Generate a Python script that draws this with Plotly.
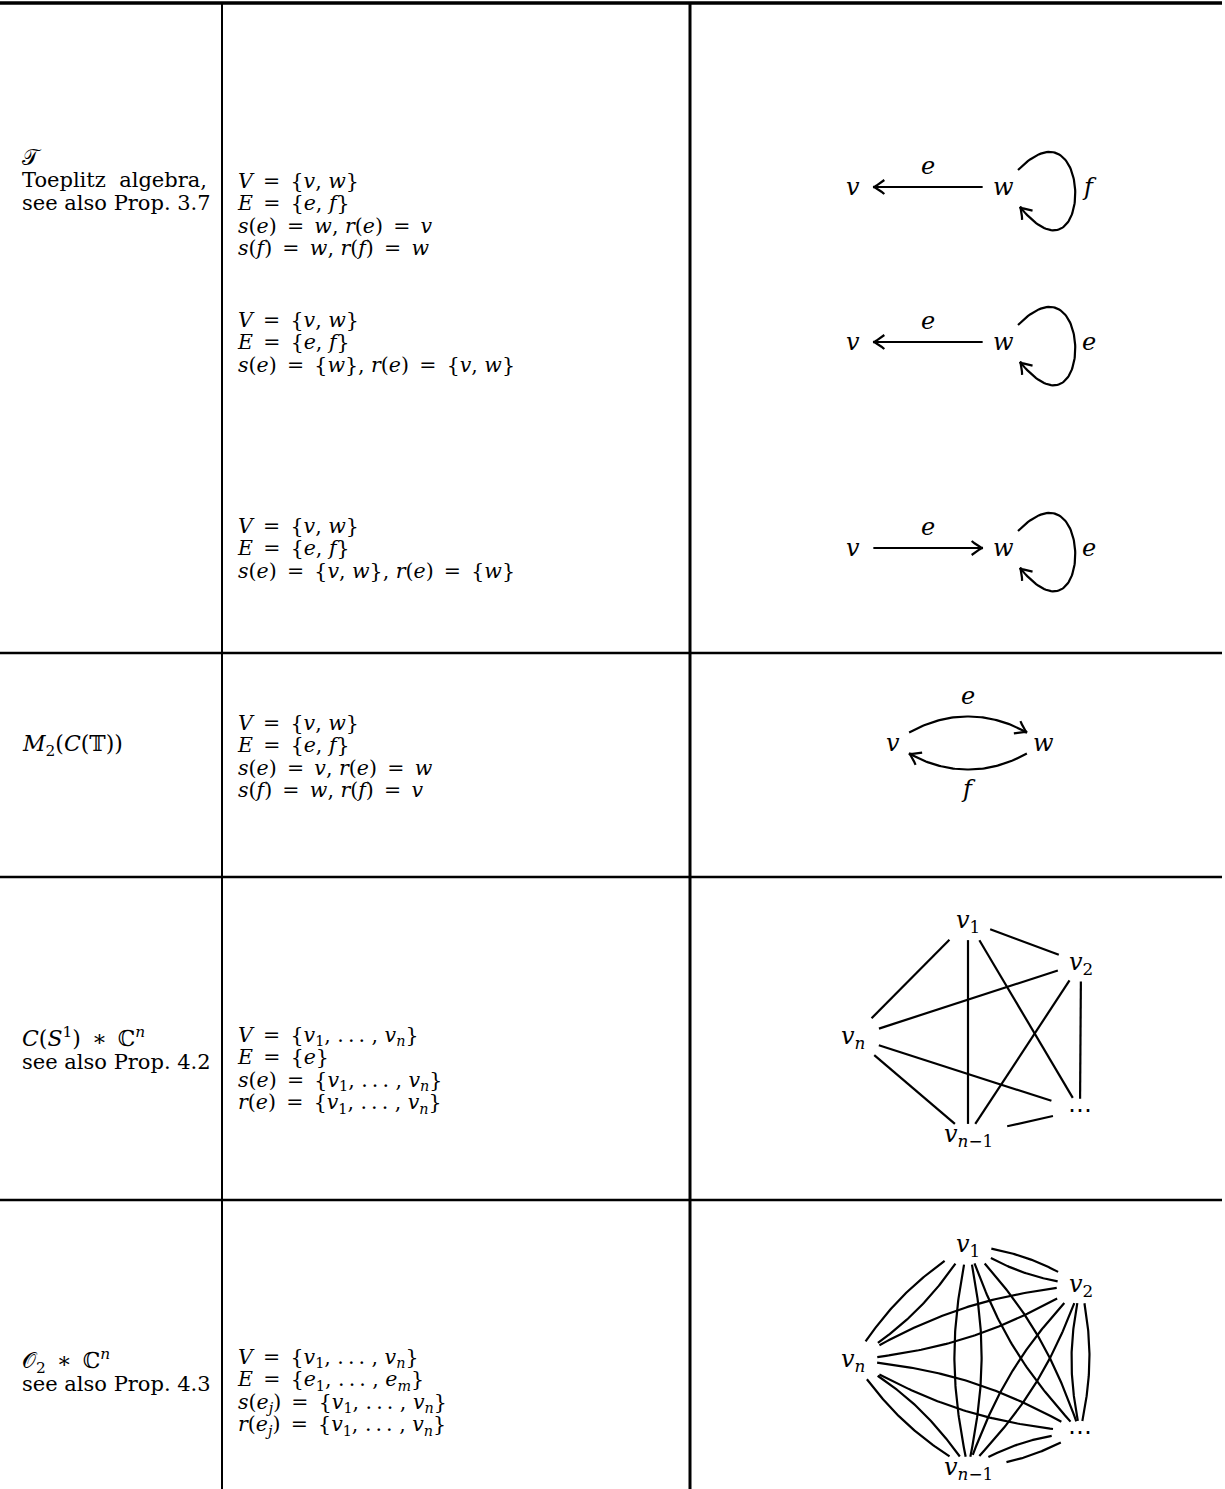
import re
from itertools import combinations

import numpy as np
import plotly.graph_objects as go

W, H = 1225, 1489
SERIF = "DejaVu Serif"
MATH_PX = 20.5    # glyph size of formulas
PROSE_PX = 21     # glyph size of plain words
NODE_PX = 24      # glyph size in the graphs
LINE = 22.4       # baseline distance of the stacked lines

# table rules (pixel coords, y downwards)
rule_y = [3, 653, 877, 1200]
rule_width = [3.5, 2.5, 2.5, 2.5]
col_x = [222, 690]
col_width = [2.0, 3.0]

DOTS = ".\u2009.\u2009."
EQ = "\u2002=\u2002"
STAR = "\u2002∗\u2002"

# first column (first line is math)
label_T = ["𝒯", "Toeplitz\u00a0\u00a0algebra,", "see also Prop. 3.7"]
label_M2 = ["M<sub>2</sub>(C(𝕋))"]
label_CS1 = ["C(S<sup>1</sup>)" + STAR + "ℂ<sup>n</sup>", "see also Prop. 4.2"]
label_O2 = ["𝒪<sub>2</sub>" + STAR + "ℂ<sup>n</sup>", "see also Prop. 4.3"]
label_mid = [180, 745, 1048, 1370]

# second column
V2 = "V" + EQ + "{v, w}"
E2 = "E" + EQ + "{e, f}"
ALLV = "{v<sub>1</sub>, " + DOTS + " , v<sub>n</sub>}"
defs_T1 = [V2, E2, f"s(e){EQ}w, r(e){EQ}v", f"s(f){EQ}w, r(f){EQ}w"]
defs_T2 = [V2, E2, f"s(e){EQ}{{w}}, r(e){EQ}{{v, w}}"]
defs_T3 = [V2, E2, f"s(e){EQ}{{v, w}}, r(e){EQ}{{w}}"]
defs_M2 = [V2, E2, f"s(e){EQ}v, r(e){EQ}w", f"s(f){EQ}w, r(f){EQ}v"]
defs_CS1 = ["V" + EQ + ALLV, "E" + EQ + "{e}", "s(e)" + EQ + ALLV, "r(e)" + EQ + ALLV]
defs_O2 = ["V" + EQ + ALLV, "E" + EQ + "{e<sub>1</sub>, " + DOTS + " , e<sub>m</sub>}",
           "s(e<sub>j</sub>)" + EQ + ALLV, "r(e<sub>j</sub>)" + EQ + ALLV]
defs_mid = [214, 342, 548, 756, 1070, 1392]

# two-vertex graphs with a loop at w
pair_x = [853, 1003]
loop_rows_y = [187, 342, 548]
edge_dir = ["wv", "wv", "vw"]
loop_label = ["f", "e", "e"]

# M2(C(T)) graph
m2_nodes = [(893, 743), (1043, 743)]
m2_labels = ["e", "f"]

# complete graph on v1, v2, vn, ..., v_{n-1}
k_labels = ["v<sub>1</sub>", "v<sub>2</sub>", "v<sub>n</sub>", "⋯", "v<sub>n−1</sub>"]
k_x = [968, 1081, 853, 1080, 968]
k_y_single = [921, 963, 1037, 1110, 1135]
k_y_double = [1245, 1285, 1360, 1432, 1468]
k_half = [(22, 18), (22, 17), (24, 18), (27, 10), (38, 11)]


def mi(s):
    # TeX-like math: latin letters italic, everything else upright
    parts = re.split(r"(<[^>]+>)", s)
    return "".join(p if p.startswith("<") else
                   re.sub(r"[A-Za-z]+", lambda m: f"<i>{m.group(0)}</i>", p)
                   for p in parts)


def px(s, size):
    return f'<span style="font-size:{size}px">{s}</span>'


def cubic(p0, p1, p2, p3, n=90):
    t = np.linspace(0, 1, n)[:, None]
    return ((1 - t) ** 3 * p0 + 3 * (1 - t) ** 2 * t * p1
            + 3 * (1 - t) * t ** 2 * p2 + t ** 3 * p3)


def rot(u, a):
    c, s = np.cos(a), np.sin(a)
    return np.array([c * u[0] - s * u[1], s * u[0] + c * u[1]])


def bent(a, b, deg):
    a, b = np.asarray(a, float), np.asarray(b, float)
    L = np.linalg.norm(b - a)
    u = (b - a) / L
    th = np.radians(deg)
    k = 0.3915 * L
    return cubic(a, a + k * rot(u, th), b - k * rot(u, -th), b)


def clip(pts, boxes):
    keep = np.ones(len(pts), bool)
    for cx, cy, hw, hh in boxes:
        keep &= ~((np.abs(pts[:, 0] - cx) < hw) & (np.abs(pts[:, 1] - cy) < hh))
    return pts[keep]


def head(pts, length=11, half=7):
    # tikz "to" style tip: two curved barbs
    tip = pts[-1]
    d = tip - pts[-4]
    d = d / np.linalg.norm(d)
    n = np.array([-d[1], d[0]])
    t = np.linspace(0, 1, 10)[:, None]
    sides = []
    for s in (1, -1):
        b = tip - length * d + s * half * n
        c = tip - 0.4 * length * d + s * 0.2 * half * n
        sides.append((1 - t) ** 2 * b + 2 * (1 - t) * t * c + t ** 2 * tip)
    return np.vstack([sides[0], sides[1][::-1]])


xs, ys = [], []


def add(pts):
    xs.extend(pts[:, 0].tolist() + [None])
    ys.extend(pts[:, 1].tolist() + [None])


annotations = []


def block(x, y, lines):
    # one annotation per stacked block; plotly spaces lines by 1.3 * font size
    annotations.append(dict(x=x, y=y, text="<br>".join(lines), showarrow=False,
                            xanchor="left", yanchor="middle", align="left",
                            font=dict(family=SERIF, size=LINE / 1.3, color="black")))


def label(x, y, s):
    annotations.append(dict(x=x, y=y, text=mi(s), showarrow=False, xanchor="center",
                            yanchor="middle", font=dict(family=SERIF, size=NODE_PX, color="black")))


# --- column texts
for lines, y in zip([label_T, label_M2, label_CS1, label_O2], label_mid):
    rows = [px(mi(lines[0]), 22)]
    rows += [px(s, PROSE_PX) for s in lines[1:]]
    block(20, y, rows)

for lines, y in zip([defs_T1, defs_T2, defs_T3, defs_M2, defs_CS1, defs_O2], defs_mid):
    block(235, y, [px(mi(s), MATH_PX) for s in lines])

# --- v, w graphs with loop
for y, d, lab in zip(loop_rows_y, edge_dir, loop_label):
    vx, wx = pair_x
    bv, bw = (vx, y, 18, 10), (wx, y, 18, 10)
    a, b = (np.array([wx, y]), np.array([vx, y])) if d == "wv" else (np.array([vx, y]), np.array([wx, y]))
    t = np.linspace(0, 1, 60)[:, None]
    seg = clip(a + t * (b - a), [bv, bw])
    add(seg)
    add(head(seg))
    loop = cubic(np.array([wx + 15, y - 17]), np.array([wx + 91, y - 95]),
                 np.array([wx + 91, y + 110]), np.array([wx + 17, y + 20]))
    add(loop)
    add(head(loop))
    label(vx, y, "v")
    label(wx, y, "w")
    label((vx + wx) / 2, y - 21, "e")
    label(wx + 86, y, lab)

# --- M2(C(T))
(vx, vy), (wx, wy) = m2_nodes
boxes = [(vx, vy, 18, 10), (wx, wy, 18, 10)]
up = clip(bent((vx, vy), (wx, wy), -37), boxes)
down = clip(bent((wx, wy), (vx, vy), -37), boxes)
for arc in (up, down):
    add(arc)
    add(head(arc))
label(vx, vy, "v")
label(wx, wy, "w")
label((vx + wx) / 2, vy - 47, m2_labels[0])
label((vx + wx) / 2, vy + 46, m2_labels[1])

# --- complete graphs: single edges, then doubled bent edges
for ky, bends in ((k_y_single, [0]), (k_y_double, [12, -12])):
    boxes = [(x, y, hw, hh) for x, y, (hw, hh) in zip(k_x, ky, k_half)]
    for i, j in combinations(range(5), 2):
        for bd in bends:
            add(clip(bent((k_x[i], ky[i]), (k_x[j], ky[j]), bd), [boxes[i], boxes[j]]))
    for x, y, lab in zip(k_x, ky, k_labels):
        label(x, y, lab)

fig = go.Figure(go.Scatter(x=xs, y=ys, mode="lines", hoverinfo="skip",
                           line=dict(color="black", width=2.2)))

shapes = []
for y, w in zip(rule_y, rule_width):
    shapes.append(dict(type="line", x0=0, x1=1222, y0=y, y1=y, line=dict(color="black", width=w)))
for x, w in zip(col_x, col_width):
    shapes.append(dict(type="line", x0=x, x1=x, y0=rule_y[0], y1=H, line=dict(color="black", width=w)))

fig.update_layout(
    width=W, height=H,
    margin=dict(l=0, r=0, t=0, b=0),
    paper_bgcolor="white", plot_bgcolor="white",
    showlegend=False,
    xaxis=dict(range=[0, W], visible=False, fixedrange=True),
    yaxis=dict(range=[H, 0], visible=False, fixedrange=True),
    shapes=shapes,
    annotations=annotations,
)
fig.write_html("out.html", config={"displayModeBar": False},
               post_script="document.body.style.margin='0px';")
